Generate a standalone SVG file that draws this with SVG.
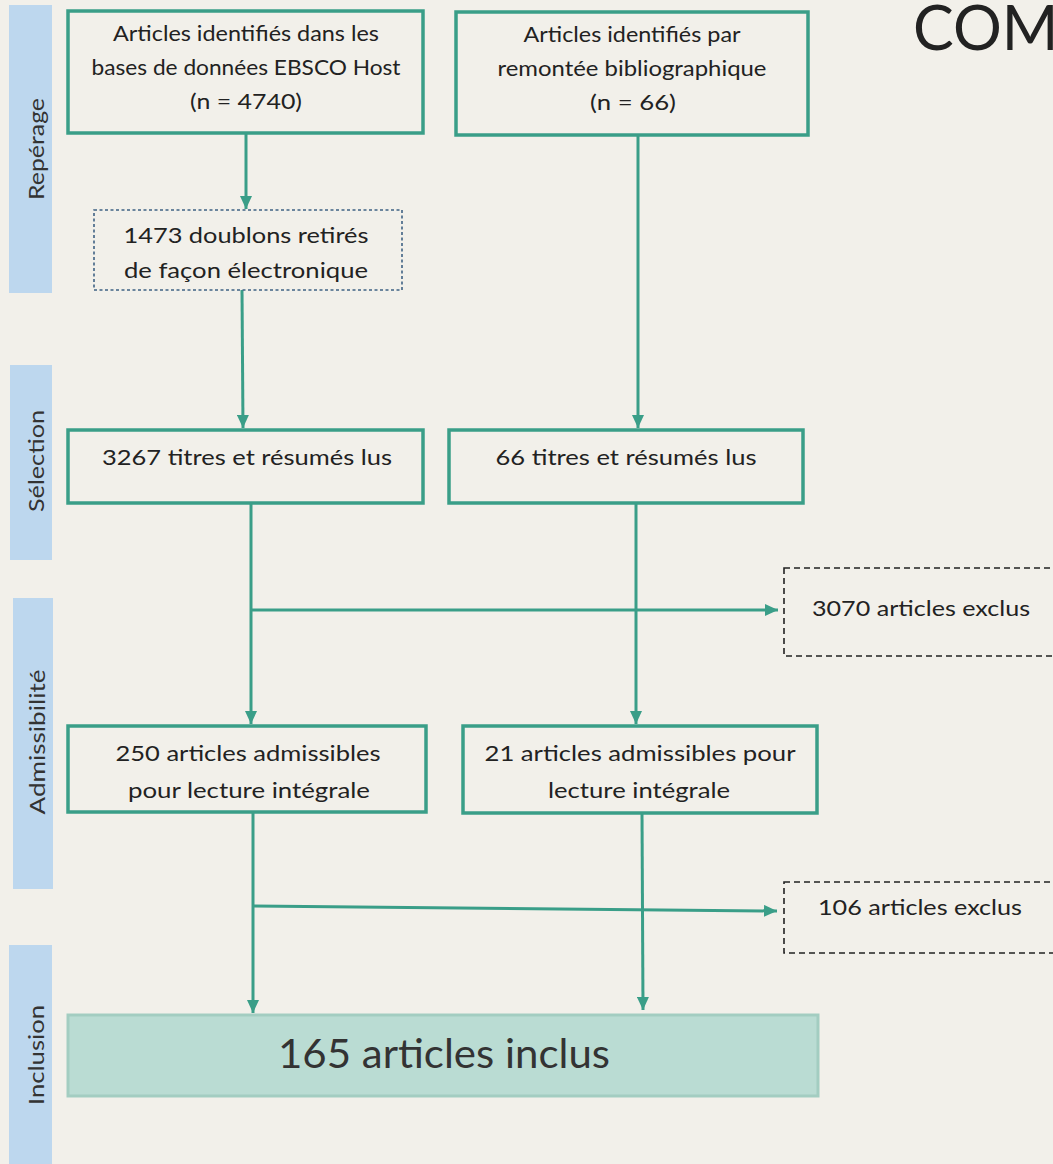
<svg xmlns="http://www.w3.org/2000/svg" width="1053" height="1164" viewBox="0 0 1053 1164">
<defs>
<style>
.bg{fill:#F2F0EA}
.bar{fill:#BDD7EE}
.box{fill:none;stroke:#3A9E88;stroke-width:3.5}
.dot{fill:none;stroke:#3F6284;stroke-width:1.6;stroke-dasharray:3 2.5}
.dash{fill:none;stroke:#222;stroke-width:1.6;stroke-dasharray:6 4}
.final{fill:#BADCD3;stroke:#A3CDC1;stroke-width:3}
.t{font-family:Lato,"Liberation Sans",sans-serif;font-size:22px;fill:#222;text-anchor:middle}
.ts{font-family:Lato,"Liberation Sans",sans-serif;font-size:22px;fill:#222}
.lab{font-family:Lato,"Liberation Sans",sans-serif;font-size:21px;fill:#333;text-anchor:middle}
.big{font-family:Lato,"Liberation Sans",sans-serif;font-size:40px;fill:#333;text-anchor:middle}
.title{font-family:Lato,"Liberation Sans",sans-serif;font-size:61px;fill:#222}
.c{fill:none;stroke:#3A9E88;stroke-width:3}
</style>
<marker id="ah" markerUnits="userSpaceOnUse" markerWidth="14" markerHeight="12" refX="13" refY="6" orient="auto">
<path d="M0,0 L13,6 L0,12 z" fill="#3A9E88"/>
</marker>
</defs>
<rect class="bg" x="0" y="0" width="1053" height="1164"/>

<g id="bars">
<rect class="bar" x="9" y="5" width="43" height="288"/>
<text class="lab" transform="translate(44,149) rotate(-90)" textLength="102" lengthAdjust="spacingAndGlyphs">Repérage</text>
<rect class="bar" x="10" y="365" width="42" height="195"/>
<text class="lab" transform="translate(44,461) rotate(-90)" textLength="102" lengthAdjust="spacingAndGlyphs">Sélection</text>
<rect class="bar" x="13" y="598" width="40" height="291"/>
<text class="lab" transform="translate(45,742) rotate(-90)" textLength="145" lengthAdjust="spacingAndGlyphs">Admissibilité</text>
<rect class="bar" x="9" y="945" width="43" height="219"/>
<text class="lab" transform="translate(44,1055) rotate(-90)" textLength="100" lengthAdjust="spacingAndGlyphs">Inclusion</text>
</g>

<g id="title">
<text class="title" x="913" y="50">COM</text>
</g>

<g id="connectors">
<line class="c" x1="246" y1="133" x2="246" y2="209" marker-end="url(#ah)"/>
<line class="c" x1="242" y1="290" x2="243" y2="428" marker-end="url(#ah)"/>
<line class="c" x1="638" y1="135" x2="638" y2="428" marker-end="url(#ah)"/>
<line class="c" x1="251" y1="503" x2="251" y2="724" marker-end="url(#ah)"/>
<line class="c" x1="636" y1="503" x2="636" y2="724" marker-end="url(#ah)"/>
<line class="c" x1="251" y1="610" x2="778" y2="610" marker-end="url(#ah)"/>
<line class="c" x1="253" y1="812" x2="253" y2="1013" marker-end="url(#ah)"/>
<line class="c" x1="642" y1="813" x2="643" y2="1010" marker-end="url(#ah)"/>
<line class="c" x1="253" y1="906" x2="777" y2="911" marker-end="url(#ah)"/>
</g>

<g id="n-ebsco">
<rect class="box" x="68" y="11" width="355" height="122"/>
<text class="t" x="246" y="41" textLength="266" lengthAdjust="spacingAndGlyphs">Articles identifiés dans les</text>
<text class="t" x="246" y="75" textLength="309" lengthAdjust="spacingAndGlyphs">bases de données EBSCO Host</text>
<text class="t" x="246" y="109" textLength="112" lengthAdjust="spacingAndGlyphs">(n = 4740)</text>
</g>

<g id="n-remontee">
<rect class="box" x="456" y="12" width="352" height="123"/>
<text class="t" x="632" y="42" textLength="217" lengthAdjust="spacingAndGlyphs">Articles identifiés par</text>
<text class="t" x="632" y="76" textLength="269" lengthAdjust="spacingAndGlyphs">remontée bibliographique</text>
<text class="t" x="633" y="110" textLength="86" lengthAdjust="spacingAndGlyphs">(n = 66)</text>
</g>

<g id="n-doublons">
<rect class="dot" x="94" y="210" width="308" height="80"/>
<text class="t" x="246" y="243" textLength="245" lengthAdjust="spacingAndGlyphs">1473 doublons retirés</text>
<text class="t" x="246" y="278" textLength="244" lengthAdjust="spacingAndGlyphs">de façon électronique</text>
</g>

<g id="n-titres1">
<rect class="box" x="68" y="430" width="355" height="73"/>
<text class="t" x="247" y="465" textLength="290" lengthAdjust="spacingAndGlyphs">3267 titres et résumés lus</text>
</g>

<g id="n-titres2">
<rect class="box" x="449" y="430" width="354" height="73"/>
<text class="t" x="626" y="465" textLength="261" lengthAdjust="spacingAndGlyphs">66 titres et résumés lus</text>
</g>

<g id="n-exclus1">
<rect class="dash" x="784" y="568" width="280" height="88"/>
<text class="ts" x="812" y="616" textLength="218" lengthAdjust="spacingAndGlyphs">3070 articles exclus</text>
</g>

<g id="n-admis1">
<rect class="box" x="68" y="726" width="358" height="86"/>
<text class="t" x="248" y="761" textLength="265" lengthAdjust="spacingAndGlyphs">250 articles admissibles</text>
<text class="t" x="249" y="798" textLength="242" lengthAdjust="spacingAndGlyphs">pour lecture intégrale</text>
</g>

<g id="n-admis2">
<rect class="box" x="463" y="726" width="354" height="87"/>
<text class="t" x="640" y="761" textLength="311" lengthAdjust="spacingAndGlyphs">21 articles admissibles pour</text>
<text class="t" x="639" y="798" textLength="182" lengthAdjust="spacingAndGlyphs">lecture intégrale</text>
</g>

<g id="n-exclus2">
<rect class="dash" x="784" y="882" width="280" height="71"/>
<text class="ts" x="818" y="915" textLength="204" lengthAdjust="spacingAndGlyphs">106 articles exclus</text>
</g>

<g id="n-inclus">
<rect class="final" x="68" y="1015" width="750" height="81"/>
<text class="big" x="444" y="1068" textLength="332" lengthAdjust="spacingAndGlyphs">165 articles inclus</text>
</g>
</svg>
